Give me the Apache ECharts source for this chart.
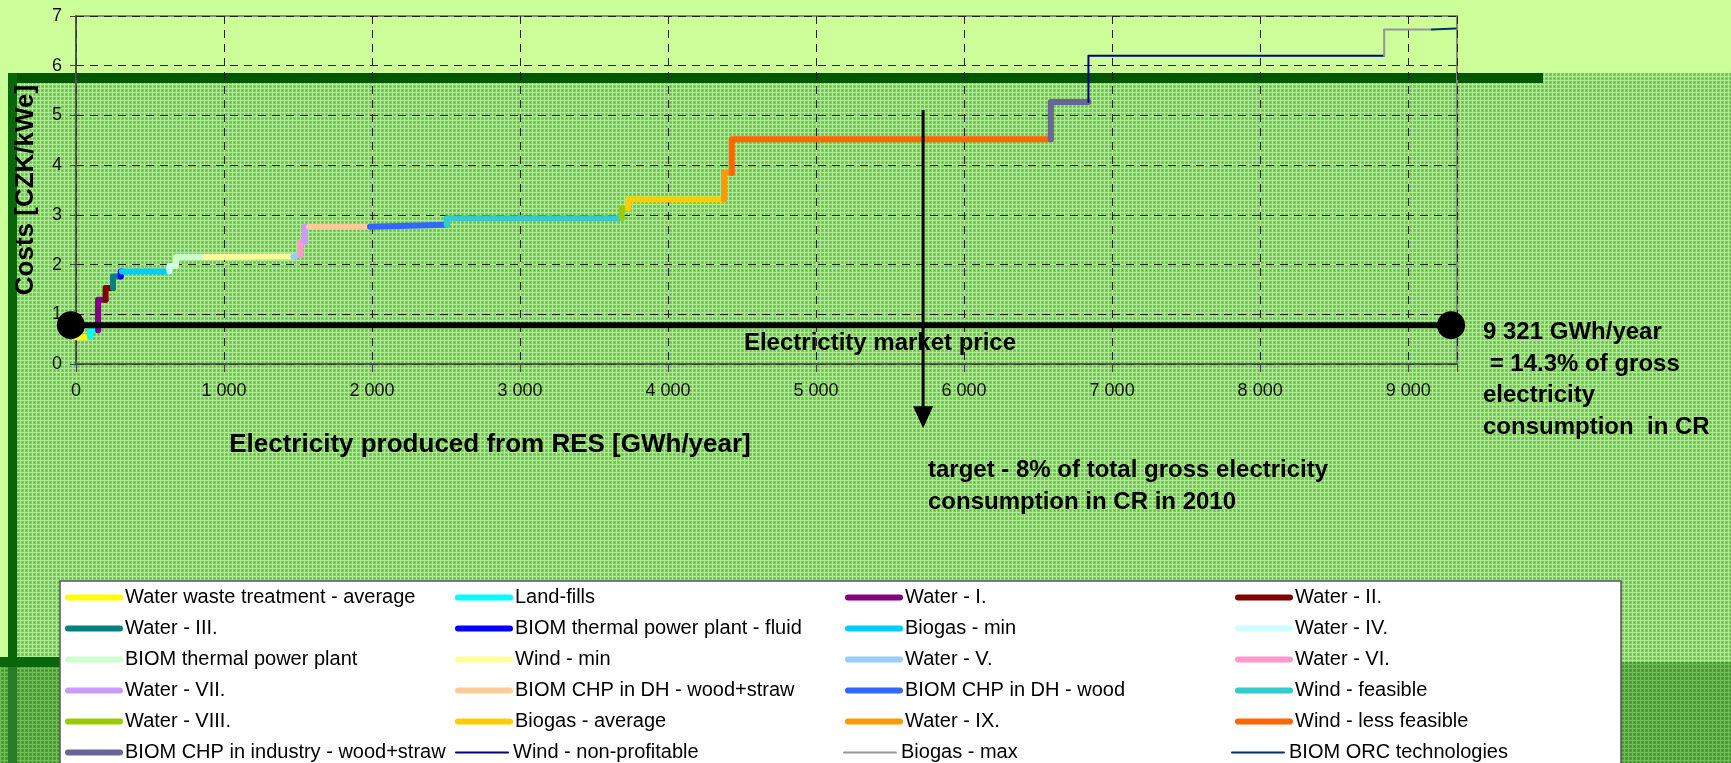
<!DOCTYPE html>
<html>
<head>
<meta charset="utf-8">
<script src="https://cdn.jsdelivr.net/npm/echarts@6/dist/echarts.min.js"></script>
<style>
  html, body { margin: 0; padding: 0; background: #ccff99; }
  #chart { width: 1731px; height: 763px; }
</style>
</head>
<body>
<div id="chart"></div>
<script>
// technologies, in the order they are stacked along the supply curve
const techNames = [
  "Water waste treatment - average", "Land-fills", "Water - I.", "Water - II.",
  "Water - III.", "BIOM thermal power plant - fluid", "Biogas - min", "Water - IV.",
  "BIOM thermal power plant", "Wind - min", "Water - V.", "Water - VI.",
  "Water - VII.", "BIOM CHP in DH - wood+straw", "BIOM CHP in DH - wood", "Wind - feasible",
  "Water - VIII.", "Biogas - average", "Water - IX.", "Wind - less feasible",
  "BIOM CHP in industry - wood+straw", "Wind - non-profitable", "Biogas - max", "BIOM ORC technologies"
];
// cumulative production at the end of each block [GWh/year]
const cumEnd = [95, 149, 200, 250, 302, 310, 631, 676, 872, 1468, 1514, 1547, 1575, 1986, 2505, 3687,
                3730, 4378, 4430, 6586, 6840, 8838, 9160, 9321];
// cost of each block [CZK/kWe]
const costs = [0.54, 0.68, 1.29, 1.53, 1.76, 1.86, 1.86, 1.97, 2.15, 2.16, 2.19, 2.46, 2.76, 2.76, 2.80, 2.93,
               3.13, 3.31, 3.84, 4.52, 5.27, 6.20, 6.73, 6.75];

const marketPrice = 0.78;
const marketRange = [-35, 9290];
const targetGWh = 5723;
const targetArrow = [5.11, -1.07];

const xTicks = [0, 1000, 2000, 3000, 4000, 5000, 6000, 7000, 8000, 9000];

const colors = [
  "#ffff00", "#00ffff", "#800080", "#800000", "#008080", "#0000ff", "#00ccff", "#ccffff",
  "#ccffcc", "#ffff99", "#99ccff", "#ff99cc", "#cc99ff", "#ffcc99", "#3366ff", "#33cccc",
  "#99cc00", "#ffcc00", "#ff9900", "#ff6600", "#666699", "#000080", "#969696", "#003366"
];
const thin = ["Wind - non-profitable", "Biogas - max", "BIOM ORC technologies"];

const FONT = "Liberation Sans, Arial, sans-serif";

function makePattern(base, light, dark) {
  const c = document.createElement("canvas");
  c.width = 4; c.height = 4;
  const g = c.getContext("2d");
  g.fillStyle = base; g.fillRect(0, 0, 4, 4);
  g.fillStyle = light; g.fillRect(0, 0, 4, 1); g.fillRect(0, 0, 1, 4);
  g.fillStyle = dark; g.fillRect(2, 2, 1, 1);
  return c;
}
const patLight = { image: makePattern("#7fcc60", "#aeeb92", "#5eac44"), repeat: "repeat" };
const patDark = { image: makePattern("#4f9f3a", "#6fbf55", "#3b862b"), repeat: "repeat" };

const chart = echarts.init(document.getElementById("chart"));

const series = techNames.map((name, i) => {
  const start = i === 0 ? 0 : cumEnd[i - 1];
  const data = [];
  if (i > 0) data.push([start, costs[i - 1]]);
  data.push([start, costs[i]], [cumEnd[i], costs[i]]);
  return {
    name: name,
    type: "line",
    data: data,
    symbol: "none",
    color: colors[i],
    lineStyle: { color: colors[i], width: thin.includes(name) ? 2 : 6, cap: "round", join: "round" },
    silent: true,
    z: 3
  };
});

series.push({
  name: "market",
  type: "line",
  data: [[marketRange[0], marketPrice], [marketRange[1], marketPrice]],
  symbol: "circle",
  symbolSize: 28,
  clip: false,
  itemStyle: { color: "#000" },
  lineStyle: { color: "#000", width: 6 },
  silent: true,
  z: 5
});
series.push({
  name: "target",
  type: "line",
  data: [
    { value: [targetGWh, targetArrow[0]], symbol: "none" },
    { value: [targetGWh, targetArrow[1]], symbol: "triangle", symbolSize: [20, 22], symbolRotate: 180 }
  ],
  clip: false,
  itemStyle: { color: "#000" },
  lineStyle: { color: "#000", width: 3 },
  silent: true,
  z: 6
});

const boldText = { fontFamily: FONT, fontWeight: "bold", fontSize: 24, fill: "#000" };

const option = {
  animation: false,
  backgroundColor: "#ccff99",
  grid: { left: 76, top: 16, right: 274, bottom: 399, show: true, borderColor: "#888", borderWidth: 2 },
  xAxis: {
    type: "value",
    min: 0,
    max: 9330,
    interval: 1000,
    axisLine: { show: true, lineStyle: { color: "#444", width: 1.5 } },
    axisTick: { show: true, length: 8, lineStyle: { color: "#444" } },
    axisLabel: {
      margin: 18, fontFamily: FONT, fontSize: 18, color: "#111",
      formatter: v => xTicks.includes(v) ? (v === 0 ? "0" : (v / 1000) + " 000") : ""
    },
    splitLine: { show: true, lineStyle: { color: "#222", type: [8, 6], width: 1 } }
  },
  yAxis: {
    type: "value",
    min: 0,
    max: 7,
    interval: 1,
    name: "Costs [CZK/kWe]",
    nameLocation: "middle",
    nameRotate: 90,
    nameGap: 37,
    nameTextStyle: { fontFamily: FONT, fontWeight: "bold", fontSize: 26, color: "#000" },
    axisLine: { show: true, lineStyle: { color: "#444", width: 1.5 } },
    axisTick: { show: true, length: 6, lineStyle: { color: "#444" } },
    axisLabel: { margin: 14, fontFamily: FONT, fontSize: 18, color: "#111" },
    splitLine: { show: true, lineStyle: { color: "#222", type: [8, 6], width: 1 } }
  },
  legend: {
    data: techNames.map(n => ({ name: n, lineStyle: { width: thin.includes(n) ? 2 : 6, cap: "round" } })),
    left: 60,
    top: 581,
    width: 1600,
    itemWidth: 52,
    itemHeight: 1,
    itemGap: 4,
    padding: [3, 0, 20, 5],
    backgroundColor: "#fff",
    borderColor: "#555",
    borderWidth: 1.5,
    selectedMode: false,
    itemStyle: { opacity: 0 },
    textStyle: { fontFamily: FONT, fontSize: 20, color: "#000", width: 326, overflow: "truncate", lineHeight: 27 }
  },
  graphic: [
    { type: "rect", z: -20, silent: true, shape: { x: 17, y: 73, width: 1714, height: 690 }, style: { fill: patLight } },
    { type: "rect", z: -19, silent: true, shape: { x: 0, y: 662, width: 1731, height: 101 }, style: { fill: patDark } },
    { type: "rect", z: -18, silent: true, shape: { x: 8, y: 73, width: 1535, height: 10 }, style: { fill: "#005500" } },
    { type: "rect", z: -18, silent: true, shape: { x: 8, y: 73, width: 9, height: 590 }, style: { fill: "#0a660a" } },
    { type: "rect", z: -18, silent: true, shape: { x: 0, y: 657, width: 62, height: 10 }, style: { fill: "#0a660a" } },
    { type: "rect", z: -18, silent: true, shape: { x: 8, y: 667, width: 9, height: 96 }, style: { fill: "#2a7a2a" } },
    { type: "text", z: 1, silent: true, x: 880, y: 343,
      style: Object.assign({ text: "Electrictity market price", align: "center", verticalAlign: "middle" }, boldText) },
    { type: "text", z: 1, silent: true, x: 490, y: 445,
      style: Object.assign({ text: "Electricity produced from RES [GWh/year]", align: "center", verticalAlign: "middle" }, boldText, { fontSize: 26 }) },
    { type: "text", z: 1, silent: true, x: 928, y: 454,
      style: Object.assign({ text: "target - 8% of total gross electricity\nconsumption in CR in 2010", lineHeight: 32 }, boldText) },
    { type: "text", z: 1, silent: true, x: 1483, y: 317,
      style: Object.assign({ text: "9 321 GWh/year\n = 14.3% of gross\nelectricity\nconsumption  in CR", lineHeight: 31.5 }, boldText) }
  ],
  series: series
};

chart.setOption(option);
</script>
</body>
</html>
